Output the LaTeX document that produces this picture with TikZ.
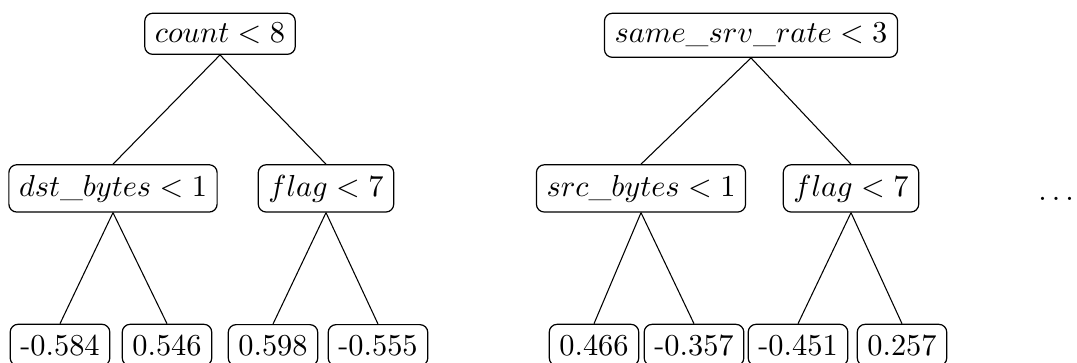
\documentclass[tikz,border=0pt]{standalone}
\begin{document}
\begin{tikzpicture}[x=0.329pt,y=-0.329pt,
  tnode/.style={draw,rounded corners=2.6pt,anchor=base,line width=0.4pt},
  edge/.style={line width=0.35pt}]
\useasboundingbox (0,0) rectangle (1077,362);
% tree 1
\node[tnode] (r1) at (220,43) {$count < 8$};
\node[tnode] (a1) at (113,196) {$dst\_bytes < 1$};
\node[tnode] (b1) at (326,196) {$flag < 7$};
\node[tnode] (l1) at (60,355) {-0.584};
\node[tnode] (l2) at (167,355) {0.546};
\node[tnode] (l3) at (273,355) {0.598};
\node[tnode] (l4) at (378,355) {-0.555};
\draw[edge] (r1.south) -- (a1.north);
\draw[edge] (r1.south) -- (b1.north);
\draw[edge] (a1.south) -- (l1.north);
\draw[edge] (a1.south) -- (l2.north);
\draw[edge] (b1.south) -- (l3.north);
\draw[edge] (b1.south) -- (l4.north);
% tree 2
\node[tnode] (r2) at (751,43) {$same\_srv\_rate < 3$};
\node[tnode] (a2) at (641,196) {$src\_bytes < 1$};
\node[tnode] (b2) at (851,196) {$flag < 7$};
\node[tnode] (m1) at (594,355) {0.466};
\node[tnode] (m2) at (694,355) {-0.357};
\node[tnode] (m3) at (798,355) {-0.451};
\node[tnode] (m4) at (902,355) {0.257};
\draw[edge] (r2.south) -- (a2.north);
\draw[edge] (r2.south) -- (b2.north);
\draw[edge] (a2.south) -- (m1.north);
\draw[edge] (a2.south) -- (m2.north);
\draw[edge] (b2.south) -- (m3.north);
\draw[edge] (b2.south) -- (m4.north);
\node[anchor=base,inner sep=0pt] (dots) at (1056,200) {$\ldots$};
\end{tikzpicture}
\end{document}
